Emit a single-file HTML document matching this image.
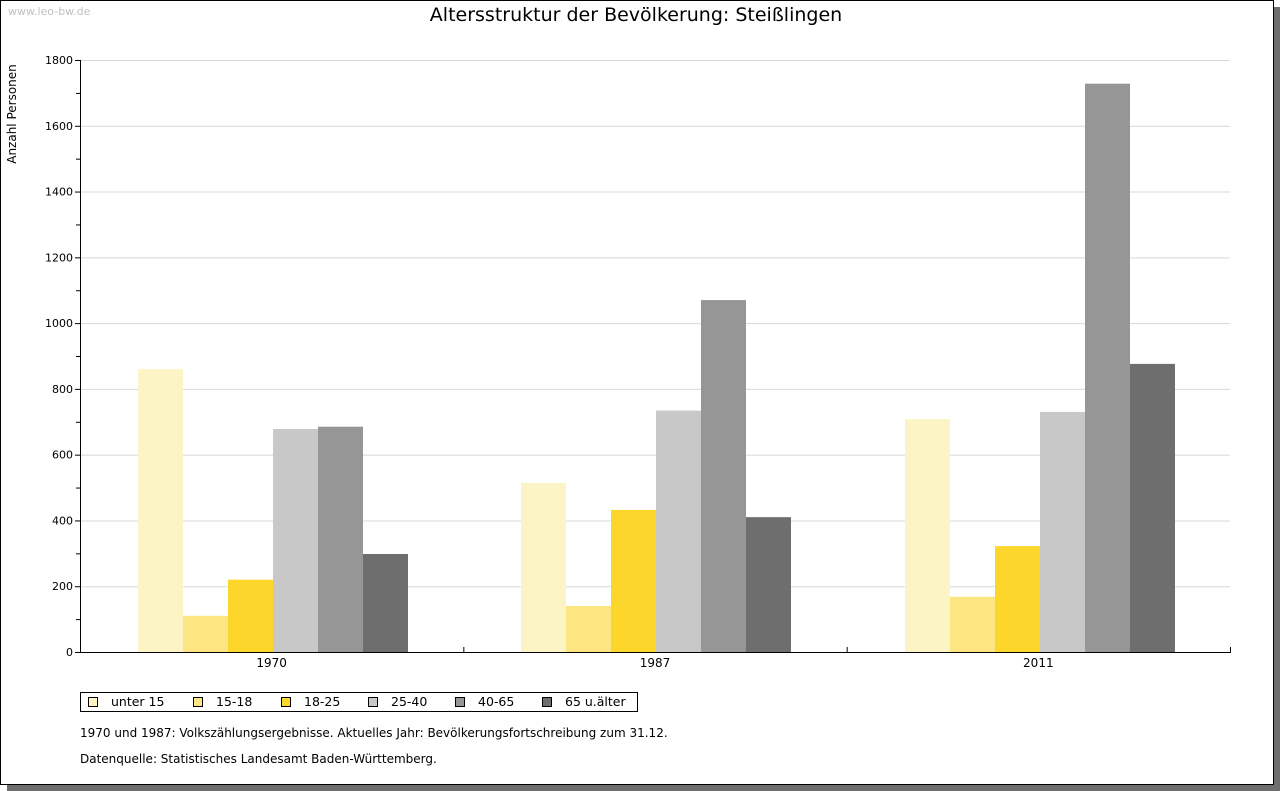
<!DOCTYPE html>
<html><head><meta charset="utf-8"><style>
body{margin:0;width:1280px;height:791px;background:#fff;font-family:"DejaVu Sans","Liberation Sans",sans-serif;overflow:hidden}
</style></head><body>
<svg width="1280" height="791" style="position:absolute;left:0;top:0;font-family:'DejaVu Sans','Liberation Sans',sans-serif">
<rect x="7" y="7" width="1273" height="784" fill="#6e6e6e"/>
<rect x="0.5" y="0.5" width="1273" height="784" fill="#fff" stroke="#000"/>
<text x="8" y="15" font-size="11" fill="#c0c0c0">www.leo-bw.de</text>
<text x="636" y="21" font-size="19" text-anchor="middle">Altersstruktur der Bevölkerung: Steißlingen</text>
<text transform="translate(16,114) rotate(-90)" font-size="12" text-anchor="middle">Anzahl Personen</text>
<g id="grid"></g><g id="bars"></g><g id="axes"></g>
<g>
<rect x="80.5" y="692.5" width="557" height="19" fill="#fff" stroke="#000"/>
<g id="legend"></g>
</g>
<text x="80" y="737" font-size="12">1970 und 1987: Volkszählungsergebnisse. Aktuelles Jahr: Bevölkerungsfortschreibung zum 31.12.</text>
<text x="80" y="763" font-size="12">Datenquelle: Statistisches Landesamt Baden-Württemberg.</text>
</svg>
<script>
const categories=["1970","1987","2011"];
const seriesNames=["unter 15","15-18","18-25","25-40","40-65","65 u.älter"];
const seriesColors=["#fcf4c4","#fde681","#fdd62c","#c8c8c8","#969696","#6e6e6e"];
const s_unter15=[860,514,708];
const s_15_18=[110,140,168];
const s_18_25=[220,432,322];
const s_25_40=[678,734,730];
const s_40_65=[685,1070,1728];
const s_65=[298,410,876];
const yTicks=[0,200,400,600,800,1000,1200,1400,1600,1800];
const series=[s_unter15,s_15_18,s_18_25,s_25_40,s_40_65,s_65];
const NS="http://www.w3.org/2000/svg";
const X0=80,X1=1230,Y0=652,Y1=60,YMAX=1800;
const y=v=>Y0-(v/YMAX)*(Y0-Y1);
const gw=(X1-X0)/categories.length,bw=45;
function mk(tag,attrs,parent){const e=document.createElementNS(NS,tag);for(const k in attrs)e.setAttribute(k,attrs[k]);parent.appendChild(e);return e;}
const grid=document.getElementById('grid'),bars=document.getElementById('bars'),axes=document.getElementById('axes'),leg=document.getElementById('legend');
yTicks.forEach(t=>{
 if(t>0){const l=mk('line',{x1:X0,x2:X1,y1:y(t)+0.5,y2:y(t)+0.5,stroke:'#d8d8d8'},grid);
 
 }
 const tk=mk('line',{x1:X0-5,x2:X0,y1:y(t)+0.5,y2:y(t)+0.5,stroke:'#000'},axes);
 
 
 const tx=mk('text',{x:X0-7,y:y(t)+4,'font-size':11,'text-anchor':'end'},axes);tx.textContent=t;
 
 
});
for(let i=0;i<yTicks.length-1;i++){const m=(yTicks[i]+yTicks[i+1])/2;
 const tk=mk('line',{x1:X0-4,x2:X0,y1:y(m)+0.5,y2:y(m)+0.5,stroke:'#000'},axes);
 
 }
categories.forEach((c,ci)=>{
 const gx=X0+ci*gw,start=Math.round(gx+(gw-bw*series.length)/2+1.2);
 series.forEach((s,si)=>{
  const r=mk('rect',{x:start+si*bw,y:y(s[ci]),width:bw,height:Y0-y(s[ci]),fill:seriesColors[si]},bars);
  
  
 });
 const t=mk('text',{x:gx+gw/2,y:Y0+15,'font-size':12,'text-anchor':'middle'},axes);t.textContent=c;
 
 
 const tk=mk('line',{x1:gx+gw+0.5,x2:gx+gw+0.5,y1:Y0-5,y2:Y0+1,stroke:'#000'},axes);
 
 
});
const ya=mk('line',{x1:X0+0.5,x2:X0+0.5,y1:Y1,y2:Y0+1,stroke:'#000'},axes);


const xa=mk('line',{x1:X0,x2:X1,y1:Y0+0.5,y2:Y0+0.5,stroke:'#000'},axes);


const legX=[88,193,281,368,455,542];
seriesNames.forEach((n,i)=>{
 const g=mk('g',{},leg);
 
 
 mk('rect',{x:legX[i]+0.5,y:697.5,width:9,height:9,fill:seriesColors[i],stroke:'#000'},g);
 const t=mk('text',{x:legX[i]+23,y:706,'font-size':12.5},g);t.textContent=n;
});
</script>
</body></html>
